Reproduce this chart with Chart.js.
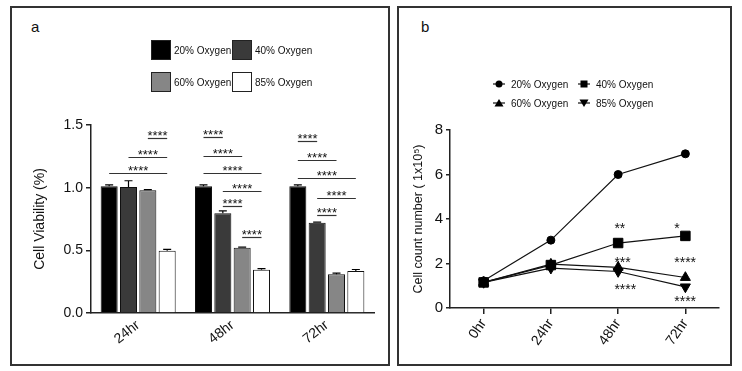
<!DOCTYPE html>
<html>
<head>
<meta charset="utf-8">
<script src="https://cdn.jsdelivr.net/npm/chart.js@4.4.1/dist/chart.umd.min.js"></script>
<style>
  body { margin: 0; width: 742px; height: 371px; background: #fff; position: relative; overflow: hidden;
         font-family: "Liberation Sans", Arial, sans-serif; color: #111; }
  .panel { position: absolute; top: 6px; height: 360px; border: 2px solid #333; box-sizing: border-box; }
  #panelA { left: 10px; width: 380px; }
  #panelB { left: 397px; width: 335px; }
  .tag { position: absolute; font-size: 15px; line-height: 15px; top: 19px; }
  canvas { position: absolute; }
  .legend { position: absolute; display: grid; font-size: 10px; z-index: 2; }
  .legend .item { display: flex; align-items: center; white-space: nowrap; }
  #legendA { left: 151px; top: 40px; grid-template-columns: 81px 81px; grid-auto-rows: 20px; row-gap: 12px; }
  #legendA .box { width: 18px; height: 18px; border: 1px solid #222; margin-right: 3px; }
  #legendB { left: 493px; top: 78px; grid-template-columns: 85px 85px; grid-auto-rows: 12px; row-gap: 7px; }
  #legendB svg { margin-right: 6px; }
</style>
</head>
<body>
<div class="panel" id="panelA"></div>
<div class="panel" id="panelB"></div>
<div class="tag" style="left:31px">a</div>
<div class="tag" style="left:421px">b</div>
<div class="legend" id="legendA"></div>
<div class="legend" id="legendB"></div>
<canvas id="viabCanvas" width="375" height="355" style="left:12px;top:8px"></canvas>
<canvas id="countCanvas" width="330" height="355" style="left:399px;top:8px"></canvas>
<script>
var groups = ['24hr', '48hr', '72hr'];
var hours = ['0hr', '24hr', '48hr', '72hr'];
var oxygenLabels = ['20% Oxygen', '40% Oxygen', '60% Oxygen', '85% Oxygen'];

// panel a: cell viability, mean and upper error
var viab20 = [1.012, 1.012, 1.012];
var viab40 = [1.005, 0.795, 0.72];
var viab60 = [0.98, 0.52, 0.31];
var viab85 = [0.497, 0.346, 0.335];
var viabErr20 = [0.01, 0.01, 0.01];
var viabErr40 = [0.05, 0.02, 0.005];
var viabErr60 = [0.005, 0.006, 0.008];
var viabErr85 = [0.01, 0.008, 0.012];

// significance brackets: group, first bar, last bar, height
var sigA = [
  ['24hr', 2, 3, 1.40], ['24hr', 1, 3, 1.247], ['24hr', 0, 3, 1.114],
  ['48hr', 0, 1, 1.407], ['48hr', 0, 2, 1.253], ['48hr', 0, 3, 1.117],
  ['48hr', 1, 3, 0.975], ['48hr', 1, 2, 0.855], ['48hr', 2, 3, 0.607],
  ['72hr', 0, 1, 1.372], ['72hr', 0, 2, 1.218], ['72hr', 0, 3, 1.079],
  ['72hr', 1, 3, 0.919], ['72hr', 1, 2, 0.781]
];

// panel b: cell count (1x10^5)
var count20 = [1.22, 3.05, 6.0, 6.93];
var count40 = [1.15, 1.93, 2.92, 3.24];
var count60 = [1.15, 1.97, 1.83, 1.37];
var count85 = [1.15, 1.79, 1.64, 0.95];

// stars: x (category position), y, text
var sigB = [
  [1.945, 3.73, '**'], [2.835, 3.75, '*'],
  [1.945, 2.2, '***'], [2.835, 2.2, '****'],
  [1.945, 1.0, '****'], [2.835, 0.46, '****']
];

var barFills = ['#000000', '#3a3a3a', '#868686', '#ffffff'];
var axisColor = '#222';
var inkColor = '#111';

Chart.defaults.font.family = '"Liberation Sans", Arial, sans-serif';
Chart.defaults.color = inkColor;

// legends
var legA = document.getElementById('legendA');
oxygenLabels.forEach(function (lab, i) {
  legA.innerHTML += '<div class="item"><div class="box" style="background:' + barFills[i] + '"></div>' + lab + '</div>';
});
var markers = [
  '<circle cx="6" cy="5" r="3.5"/>',
  '<rect x="2.5" y="1.5" width="7" height="7"/>',
  '<polygon points="6,1 10.5,8.5 1.5,8.5"/>',
  '<polygon points="6,9 10.5,1.5 1.5,1.5"/>'
];
var legB = document.getElementById('legendB');
oxygenLabels.forEach(function (lab, i) {
  legB.innerHTML += '<div class="item"><svg width="12" height="10"><line x1="0" y1="5" x2="12" y2="5" stroke="#111" stroke-width="1.2"/>' +
    '<g fill="#000">' + markers[i] + '</g></svg>' + lab + '</div>';
});

var errorBars = {
  id: 'errorBars',
  afterDatasetsDraw: function (chart) {
    var ctx = chart.ctx, y = chart.scales.y;
    ctx.save();
    ctx.strokeStyle = '#000';
    ctx.lineWidth = 1.2;
    chart.data.datasets.forEach(function (ds, i) {
      chart.getDatasetMeta(i).data.forEach(function (bar, j) {
        var top = y.getPixelForValue(ds.data[j] + ds.errors[j]);
        ctx.beginPath();
        ctx.moveTo(bar.x, bar.y);
        ctx.lineTo(bar.x, top);
        ctx.moveTo(bar.x - 4, top);
        ctx.lineTo(bar.x + 4, top);
        ctx.stroke();
      });
    });
    ctx.restore();
  }
};

var sigLines = {
  id: 'sigLines',
  afterDatasetsDraw: function (chart) {
    var ctx = chart.ctx, y = chart.scales.y;
    ctx.save();
    ctx.strokeStyle = '#333';
    ctx.lineWidth = 1.2;
    ctx.fillStyle = inkColor;
    ctx.font = '13px "Liberation Sans", Arial, sans-serif';
    ctx.textAlign = 'center';
    sigA.forEach(function (s) {
      var g = groups.indexOf(s[0]);
      var x1 = chart.getDatasetMeta(s[1]).data[g].x;
      var x2 = chart.getDatasetMeta(s[2]).data[g].x;
      var py = Math.round(y.getPixelForValue(s[3])) + 0.5;
      ctx.beginPath();
      ctx.moveTo(x1, py);
      ctx.lineTo(x2, py);
      ctx.stroke();
      ctx.fillText('****', (x1 + x2) / 2, py + 1);
    });
    ctx.restore();
  }
};

var sigStars = {
  id: 'sigStars',
  afterDatasetsDraw: function (chart) {
    var ctx = chart.ctx, x = chart.scales.x, y = chart.scales.y;
    ctx.save();
    ctx.fillStyle = inkColor;
    ctx.font = '14px "Liberation Sans", Arial, sans-serif';
    ctx.textAlign = 'left';
    sigB.forEach(function (s) {
      ctx.fillText(s[2], x.getPixelForValue(s[0]), y.getPixelForValue(s[1]) + 8);
    });
    ctx.restore();
  }
};

new Chart(document.getElementById('viabCanvas'), {
  type: 'bar',
  data: {
    labels: groups,
    datasets: [
      { label: oxygenLabels[0], data: viab20, errors: viabErr20, backgroundColor: barFills[0] },
      { label: oxygenLabels[1], data: viab40, errors: viabErr40, backgroundColor: barFills[1] },
      { label: oxygenLabels[2], data: viab60, errors: viabErr60, backgroundColor: barFills[2] },
      { label: oxygenLabels[3], data: viab85, errors: viabErr85, backgroundColor: barFills[3] }
    ]
  },
  options: {
    responsive: false,
    animation: false,
    layout: { padding: { left: 20, right: 13, top: 117, bottom: 0 } },
    plugins: { legend: { display: false }, tooltip: { enabled: false } },
    datasets: { bar: { borderColor: '#111', borderWidth: 1, categoryPercentage: 0.82, barPercentage: 0.88 } },
    scales: {
      x: {
        grid: { display: false, drawTicks: false },
        border: { color: axisColor, width: 1.5 },
        ticks: { font: { size: 14 }, maxRotation: 38, minRotation: 38, padding: 4 },
        afterFit: function (s) { s.height = 50; }
      },
      y: {
        min: 0, max: 1.5,
        ticks: { stepSize: 0.5, font: { size: 14 }, padding: 3, callback: function (v) { return v.toFixed(1); } },
        grid: { drawOnChartArea: false, tickLength: 5, color: axisColor, lineWidth: 1.5 },
        border: { color: axisColor, width: 1.5 },
        title: { display: true, text: 'Cell Viability (%)', font: { size: 14 }, padding: 0 },
        afterFit: function (s) { s.width = 59; }
      }
    }
  },
  plugins: [errorBars, sigLines]
});

var lineStyle = { borderColor: '#111', backgroundColor: '#000', borderWidth: 1.2, tension: 0,
                  pointBackgroundColor: '#000', pointBorderColor: '#000', pointBorderWidth: 1 };

new Chart(document.getElementById('countCanvas'), {
  type: 'line',
  data: {
    labels: hours,
    datasets: [
      Object.assign({ label: oxygenLabels[0], data: count20, pointStyle: 'circle', pointRadius: 4 }, lineStyle),
      Object.assign({ label: oxygenLabels[1], data: count40, pointStyle: 'rect', pointRadius: 6.7 }, lineStyle),
      Object.assign({ label: oxygenLabels[2], data: count60, pointStyle: 'triangle', pointRadius: 5.8 }, lineStyle),
      Object.assign({ label: oxygenLabels[3], data: count85, pointStyle: 'triangle', pointRotation: 180, pointRadius: 5.8 }, lineStyle)
    ]
  },
  options: {
    responsive: false,
    animation: false,
    layout: { padding: { left: 12, right: 10, top: 122, bottom: 0 } },
    plugins: { legend: { display: false }, tooltip: { enabled: false } },
    scales: {
      x: {
        offset: true,
        grid: { drawOnChartArea: false, tickLength: 6, color: axisColor, lineWidth: 1.5 },
        border: { color: axisColor, width: 1.5 },
        ticks: { font: { size: 14 }, maxRotation: 55, minRotation: 55, padding: 2 },
        afterFit: function (s) { s.height = 55; }
      },
      y: {
        min: 0, max: 8,
        ticks: { stepSize: 2, font: { size: 15 }, padding: 3 },
        grid: { drawOnChartArea: false, tickLength: 4, color: axisColor, lineWidth: 1.5 },
        border: { color: axisColor, width: 1.5 },
        title: { display: true, text: 'Cell count number ( 1x10\u2075)', font: { size: 12.5 }, padding: 0 },
        afterFit: function (s) { s.width = 39; }
      }
    }
  },
  plugins: [sigStars]
});
</script>
</body>
</html>
